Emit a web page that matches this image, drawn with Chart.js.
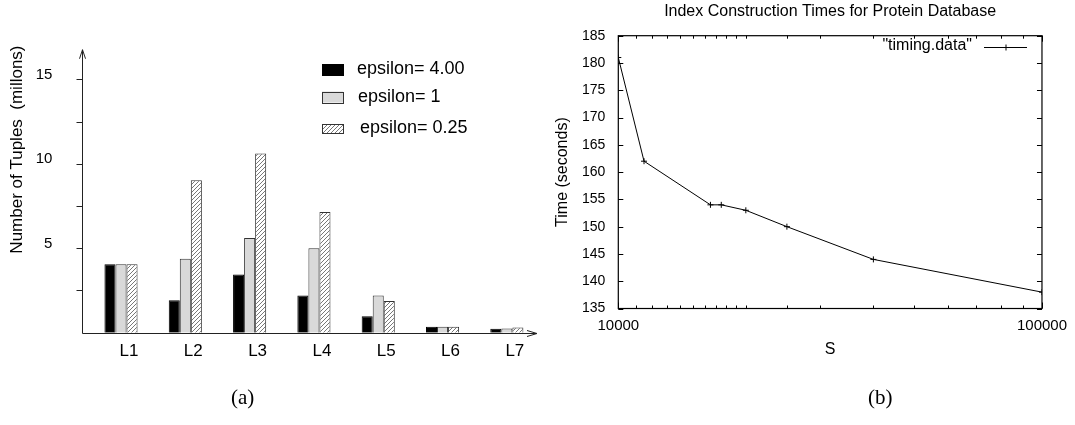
<!DOCTYPE html>
<html>
<head>
<meta charset="utf-8">
<title>Tuples per level / index construction times</title>
<script src="https://cdn.jsdelivr.net/npm/chart.js@4.4.0/dist/chart.umd.min.js"></script>
<style>
  html, body { margin: 0; padding: 0; background: #fff; }
  #wrap { position: relative; width: 1075px; height: 425px; overflow: hidden; }
  #chartA { position: absolute; left: 0; top: 0; }
  #chartB { position: absolute; left: 540px; top: 0; }
  .cap { position: absolute; top: 385px; font-family: "Liberation Serif", "DejaVu Serif", serif; font-size: 21px; color: #000; }
</style>
</head>
<body>
<div id="wrap">
  <canvas id="chartA" width="545" height="425"></canvas>
  <canvas id="chartB" width="535" height="425"></canvas>
  <div class="cap" style="left:231px">(a)</div>
  <div class="cap" style="left:868px">(b)</div>
</div>
<script>
// ---- data (a): number of tuples per level, in millions
const levels = ["L1", "L2", "L3", "L4", "L5", "L6", "L7"];
const eps400 = [4.05, 1.92, 3.45, 2.2, 0.98, 0.35, 0.23];
const eps100 = [4.05, 4.37, 5.6, 5.0, 2.2, 0.35, 0.25];
const eps025 = [4.05, 9.02, 10.6, 7.15, 1.88, 0.35, 0.31];
const yLabelsA = [5, 10, 15];

// ---- data (b): index construction time vs S
const sizes = [10000, 11500, 16500, 17500, 20000, 25000, 40000, 100000];
const times = [181, 162, 154, 154, 153, 150, 144, 138];
const xLabelsB = [10000, 100000];

const FONT = '"Liberation Sans", Arial, Helvetica, sans-serif';
Chart.defaults.font.family = FONT;
Chart.defaults.color = "#000";

// diagonal hatch for the epsilon=0.25 bars
function makeHatch() {
  const c = document.createElement("canvas");
  c.width = 4; c.height = 4;
  const g = c.getContext("2d");
  g.fillStyle = "#fff";
  g.fillRect(0, 0, 4, 4);
  g.strokeStyle = "#555";
  g.lineWidth = 0.8;
  g.beginPath();
  g.moveTo(0, 4); g.lineTo(4, 0);
  g.moveTo(-1, 1); g.lineTo(1, -1);
  g.moveTo(3, 5); g.lineTo(5, 3);
  g.stroke();
  return g.createPattern(c, "repeat");
}
const hatch = makeHatch();

// axes with arrows for (a), the y axis sits a bit left of the first group
const axesA = {
  id: "axesA",
  afterDraw(chart) {
    const { ctx } = chart;
    const y = chart.scales.y;
    const ax = 82.5;
    const y0 = Math.round(y.getPixelForValue(0)) + 0.5;
    const yTop = y.getPixelForValue(16.75);
    const xEnd = 537;
    ctx.save();
    ctx.strokeStyle = "#222";
    ctx.lineWidth = 1;
    ctx.beginPath();
    ctx.moveTo(ax, y0); ctx.lineTo(ax, yTop);
    ctx.moveTo(ax, y0); ctx.lineTo(xEnd, y0);
    ctx.moveTo(ax - 3, yTop + 9); ctx.lineTo(ax, yTop); ctx.lineTo(ax + 3, yTop + 9);
    ctx.moveTo(xEnd - 10, y0 - 3); ctx.lineTo(xEnd, y0); ctx.lineTo(xEnd - 10, y0 + 3);
    y.ticks.forEach(t => {
      if (t.value > 0 && t.value <= 15) {
        const py = Math.round(y.getPixelForValue(t.value)) + 0.5;
        ctx.moveTo(ax - 6, py); ctx.lineTo(ax, py);
      }
    });
    ctx.stroke();
    ctx.restore();
  }
};

// legend of (a), stacked at the upper right
const legendA = {
  id: "legendA",
  afterDraw(chart) {
    const { ctx } = chart;
    const rows = [
      { y: 69.5, h: 11, tx: 357 },
      { y: 97, h: 11, tx: 358 },
      { y: 128.5, h: 9, tx: 360 }
    ];
    ctx.save();
    ctx.font = "18px " + FONT;
    ctx.textBaseline = "middle";
    chart.data.datasets.forEach((ds, i) => {
      const r = rows[i];
      ctx.fillStyle = ds.backgroundColor;
      ctx.fillRect(322, r.y - r.h / 2, 21, r.h);
      ctx.strokeStyle = ds.borderColor;
      ctx.lineWidth = 1;
      ctx.strokeRect(322.5, Math.round(r.y - r.h / 2) + 0.5, 21, r.h);
      ctx.fillStyle = "#000";
      ctx.fillText(ds.label, r.tx, r.y);
    });
    ctx.restore();
  }
};

new Chart(document.getElementById("chartA"), {
  type: "bar",
  data: {
    labels: levels,
    datasets: [
      { label: "epsilon= 4.00", data: eps400, backgroundColor: "#000", borderColor: "#000", borderWidth: 1 },
      { label: "epsilon= 1", data: eps100, backgroundColor: "#d9d9d9", borderColor: "#333", borderWidth: 1 },
      { label: "epsilon= 0.25", data: eps025, backgroundColor: hatch, borderColor: "#333", borderWidth: 1 }
    ]
  },
  options: {
    responsive: false,
    animation: false,
    layout: { padding: { left: 0, top: 37.6, right: 6, bottom: 0 } },
    datasets: { bar: { categoryPercentage: 0.515, barPercentage: 1 } },
    plugins: { legend: { display: false }, tooltip: { enabled: false } },
    scales: {
      x: {
        grid: { display: false, drawTicks: false },
        border: { display: false },
        ticks: { font: { size: 17 }, padding: 8, labelOffset: 8, maxRotation: 0, autoSkip: false },
        afterFit: s => { s.height = 92.3; }
      },
      y: {
        min: 0,
        max: 17,
        grid: { display: false, drawTicks: false },
        border: { display: false },
        ticks: {
          stepSize: 2.5,
          font: { size: 15 },
          padding: 36.5,
          labelOffset: -4.5,
          callback: v => (yLabelsA.includes(v) ? String(v) : "")
        },
        title: {
          display: true,
          text: "Number of Tuples  (millons)",
          align: "end",
          font: { size: 17 },
          padding: { top: 7.3, bottom: 0 }
        },
        afterFit: s => { s.width = 88.85; }
      }
    }
  },
  plugins: [axesA, legendA]
});

// gnuplot style frame with inward ticks on every side
const frameB = {
  id: "frameB",
  afterDraw(chart) {
    const { ctx, chartArea: a } = chart;
    const { x, y } = chart.scales;
    ctx.save();
    ctx.strokeStyle = "#000";
    ctx.lineWidth = 1.2;
    ctx.strokeRect(a.left, a.top, a.right - a.left, a.bottom - a.top);
    ctx.lineWidth = 1;
    ctx.beginPath();
    y.ticks.forEach(t => {
      const py = Math.round(y.getPixelForValue(t.value)) + 0.5;
      ctx.moveTo(a.left, py); ctx.lineTo(a.left + 5, py);
      ctx.moveTo(a.right, py); ctx.lineTo(a.right - 5, py);
    });
    x.ticks.forEach(t => {
      const px = Math.round(x.getPixelForValue(t.value)) + 0.5;
      const len = xLabelsB.includes(Math.round(t.value)) ? 6 : 3;
      ctx.moveTo(px, a.bottom); ctx.lineTo(px, a.bottom - len);
      ctx.moveTo(px, a.top); ctx.lineTo(px, a.top + len);
    });
    ctx.stroke();
    ctx.restore();
  }
};

// key of (b): text first, then the line sample
const legendB = {
  id: "legendB",
  afterDraw(chart) {
    const { ctx } = chart;
    const ds = chart.data.datasets[0];
    ctx.save();
    ctx.font = "16px " + FONT;
    ctx.textAlign = "right";
    ctx.textBaseline = "middle";
    ctx.fillStyle = "#000";
    ctx.fillText(ds.label, 432, 46);
    ctx.strokeStyle = "#000";
    ctx.lineWidth = 1;
    ctx.beginPath();
    ctx.moveTo(444, 47.5); ctx.lineTo(487, 47.5);
    ctx.moveTo(466, 44.5); ctx.lineTo(466, 50.5);
    ctx.moveTo(463, 47.5); ctx.lineTo(469, 47.5);
    ctx.stroke();
    ctx.restore();
  }
};

new Chart(document.getElementById("chartB"), {
  type: "line",
  data: {
    datasets: [{
      label: '"timing.data"',
      data: sizes.map((s, i) => ({ x: s, y: times[i] })),
      borderColor: "#000",
      borderWidth: 1,
      pointStyle: "cross",
      pointRadius: 3,
      pointBorderColor: "#000",
      pointBorderWidth: 1,
      fill: false,
      tension: 0
    }]
  },
  options: {
    responsive: false,
    animation: false,
    layout: { padding: { left: 0, right: 28.3, top: 0, bottom: 0 } },
    plugins: {
      legend: { display: false },
      tooltip: { enabled: false },
      title: {
        display: true,
        text: "Index Construction Times for Protein Database",
        fullSize: false,
        color: "#000",
        font: { size: 16, weight: "normal" },
        padding: { top: 2, bottom: 14.5 }
      }
    },
    scales: {
      x: {
        type: "logarithmic",
        min: 10000,
        max: 100000,
        grid: { display: false, drawTicks: false },
        border: { display: false },
        ticks: {
          autoSkip: false,
          maxRotation: 0,
          font: { size: 15 },
          padding: 8,
          callback: v => (xLabelsB.includes(Math.round(v)) ? String(Math.round(v)) : "")
        },
        title: { display: true, text: "S", font: { size: 16 }, padding: { top: 0, bottom: 65.4 } },
        afterFit: s => { s.height = 116.5; }
      },
      y: {
        min: 135,
        max: 185,
        grid: { display: false, drawTicks: false },
        border: { display: false },
        ticks: { stepSize: 5, font: { size: 14 }, padding: 13 },
        title: { display: true, text: "Time (seconds)", font: { size: 16 }, padding: { top: 12.9, bottom: 0 } },
        afterFit: s => { s.width = 78.3; }
      }
    }
  },
  plugins: [frameB, legendB]
});
</script>
</body>
</html>
